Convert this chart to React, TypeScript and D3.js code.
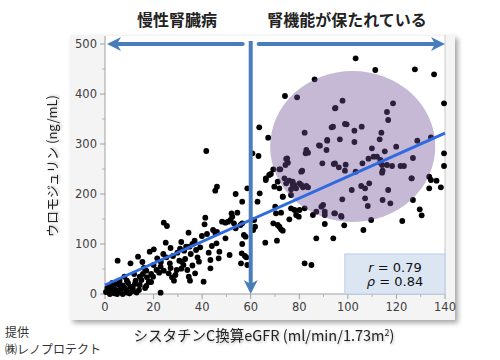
import React from "react";
import * as d3 from "d3";

// eGFR (x) と ウロモジュリン (y) の読み取り値
const lowPoints: [number, number][] = [
  [46.1, 214.7], [45.4, 206.6], [24.2, 142.6], [25.5, 136], [41.3, 152.6], [41, 139.3],
  [34.4, 122.6], [44.5, 128], [46.1, 124], [42, 120], [39.9, 116], [25, 102.6],
  [31.4, 104], [36.9, 106.6], [18.4, 84.6], [20.1, 89.3], [5.2, 66.6], [10.5, 61.3],
  [13.6, 74.6], [15.4, 64], [21.5, 71.3], [25.3, 73.3], [26.7, 61.3], [29.8, 82.6],
  [30.9, 90.6], [32.6, 86.6], [33.4, 94.6], [35.3, 80], [37.5, 88], [39.2, 93.3],
  [42.7, 82.6], [43.4, 68], [43.4, 51.3], [38.1, 73.3], [38.7, 64.6], [37.1, 41.3],
  [30.6, 66.6], [32.3, 58], [31.4, 50.6], [33.9, 48], [34.5, 34.6], [35, 26.6],
  [22.9, 54.6], [24.2, 46.6], [26.2, 41.3], [27.6, 33.3], [28.4, 26.6], [17, 46.6],
  [15.6, 40], [17.3, 33.3], [18, 24], [14.3, 34.6], [12.6, 26.6], [8, 34.6],
  [9, 26.6], [6, 26.6], [4.3, 20], [7.3, 17.3], [10.4, 14.6], [3.2, 10.6],
  [1.5, 6.6], [0.4, 4], [5.7, 4], [8.7, 8], [11.5, 10.6], [12.3, 20],
  [22.9, 2.6], [40.6, 24.6], [3.9, 1.3], [2.5, 2.6], [7.3, 0], [10.1, 1.3],
  [6.6, 11.3], [14.3, 18], [19.8, 34.6], [21.2, 48], [22.3, 42.6], [29.5, 48],
  [31.6, 64.6], [34.8, 94.6], [45.9, 101.3], [46.8, 71.3], [41.7, 286],
  [1, 12], [4.5, 8], [13, 3], [9.5, 22], [16.5, 12], [27, 52], [36, 57],
  [2, 15], [6, 18], [11, 5], [14, 8], [3, 22], [8, 12], [17, 16], [19, 24],
  [12, 40], [16, 52], [20, 58], [28, 76], [33, 70], [36, 100], [44, 96], [24, 80],
  [27, 92], [2, 0], [5, 0], [9, 3], [15, 28], [19, 40], [23, 64], [29, 38],
];

const midPoints: [number, number][] = [
  [53.8, 200], [56.5, 184.6], [58.6, 211.3], [62.8, 184.6], [63.7, 201.3], [66.2, 228],
  [67.6, 238], [71.1, 224.6], [71.8, 211.3], [73.2, 194.6], [52.1, 161.3], [52.4, 154.6],
  [51.7, 148], [54.5, 162.6], [48.2, 144.6], [49.6, 142.6], [50.7, 144.6], [53.1, 141.3],
  [55.8, 138], [56.5, 141.3], [61.4, 148], [61.8, 134.6], [61, 128], [45.5, 121.3],
  [49.6, 111.3], [53.8, 131.3], [57.2, 118], [57.9, 114.6], [56.5, 100], [47.1, 84.6],
  [51.3, 78], [56.3, 81.3], [57.6, 76], [58.2, 73.3], [56, 61.3], [58.6, 58],
  [66, 102.6], [70.8, 106.6], [69.3, 141.3], [71.1, 138], [71.8, 134.6], [72.5, 129.3],
  [73.2, 126.6], [70.4, 161.3], [72.5, 162.6], [70.1, 174.6], [75.9, 149.3], [78, 168],
  [78.7, 158], [79.8, 154.6], [82.2, 171.3], [87, 111.3], [94, 111.3], [82.2, 61.3],
  [85, 58], [90.5, 140], [87, 164.6], [90.5, 164.6], [89.8, 178], [94.7, 161.3],
  [76.6, 198], [74.6, 221.3], [77.3, 218], [80.8, 218], [82.9, 216], [76.6, 209.3],
  [80.8, 244.6], [73.9, 231.3], [86.3, 429.3], [74.1, 396], [79.1, 393.3], [63.5, 333.3],
  [67.2, 312.6], [60.7, 281.3], [63.2, 276], [82.2, 322.6], [93.3, 333.3], [94.7, 371.3],
  [91.5, 308], [88.1, 297.3], [91.2, 288], [82.9, 288], [82.6, 281.3], [74.6, 270],
  [75.3, 262.6], [74.3, 258], [71.8, 249.3], [69.3, 249.3], [68.3, 240], [81.2, 246.6],
  [89.5, 261.3], [94.2, 260], [75, 271.3], [72.2, 249.3], [75.9, 226.6], [77.3, 224.6],
  [66.2, 231.3], [69.7, 214.6], [73.2, 194.6], [76.6, 171.3], [80.1, 168], [85.6, 158],
  [90.5, 158], [97.4, 154.6], [89.1, 174.6], [78.7, 211.3], [81.5, 213.3], [83.6, 213.3],
  [80.1, 221.3], [78, 218], [83.6, 282.6], [88.5, 296.6],
];

const highPoints: [number, number][] = [
  [103.2, 471.3], [111.3, 448], [127.6, 449.3], [135.5, 439.3], [139.6, 381.3], [139.6, 281.3],
  [139.6, 256], [97.8, 386.6], [94.9, 372], [118.6, 381.3], [116.1, 364], [116.6, 348],
  [98.8, 340], [99.5, 339.3], [105.7, 334.6], [102.7, 326.6], [113.8, 322.6], [113.1, 309.3],
  [96.7, 309.3], [102.7, 304], [109.9, 291.3], [115.2, 285.3], [119.9, 294.6], [128.6, 306.6],
  [134.2, 313.3], [126.8, 272], [108.5, 270.6], [110.6, 274.6], [112, 274.6], [106, 261.3],
  [113.4, 262.6], [94.7, 261.3], [96.3, 253.3], [99.1, 258.6], [98.8, 246.6], [116.1, 258],
  [118.2, 256], [121.7, 256], [123.1, 256], [114.3, 246.6], [103.2, 244.6], [93.9, 334.6],
  [114.1, 242.6], [126.3, 231.3], [133.5, 234.6], [134.2, 228], [136.5, 226.6], [138.3, 213.3],
  [133.5, 211.3], [108.8, 221.3], [105.5, 216], [101.6, 208], [107.1, 211.3], [116.6, 208],
  [97.7, 189.3], [107.1, 191.3], [108.2, 176], [114.3, 188], [117.5, 181.3], [126.8, 188],
  [129.6, 169.3], [130.4, 157.3], [122.4, 146], [109.6, 148], [94.4, 161.3], [97.2, 156],
  [98.5, 137.3], [106.4, 128], [91.5, 306.6], [114.1, 258], [113.4, 268], [126.2, 231.3],
];

const xTicks = [0, 20, 40, 60, 80, 100, 120, 140];
const yTicks = [0, 100, 200, 300, 400, 500];
const xMinor = d3.range(10, 140, 20);
const yMinor = d3.range(50, 500, 100);

const fit = { intercept: 18, slope: 2.17 };
const circleCenter: [number, number] = [102, 295];
const circleRadius: [number, number] = [34, 151];
const cutoff = 60;
const stats = ["r", "ρ"];
const statValues = ["0.79", "0.84"];

export default function App() {
  const x = d3.scaleLinear().domain([0, 140]).range([105, 445]);
  const y = d3.scaleLinear().domain([0, 500]).range([294, 44]);
  const all = [...lowPoints, ...midPoints, ...highPoints];
  const fitLine = d3.line<number>().x((d) => x(d)).y((d) => y(fit.intercept + fit.slope * d));
  const arrowC = "#4a7ebb";
  const font = "'DejaVu Sans', Verdana, sans-serif";
  const jp = "'Noto Sans CJK JP', sans-serif";
  const yTop = y(500);
  const xc = x(cutoff);

  return (
    <svg width={500} height={360} style={{ position: "absolute", left: 0, top: 0 }}>
      <defs>
        <filter id="shadow" x="-10%" y="-10%" width="130%" height="130%">
          <feDropShadow dx="3" dy="3" stdDeviation="2.5" floodColor="#000" floodOpacity="0.35" />
        </filter>
        <filter id="tshadow" x="-5%" y="-30%" width="110%" height="160%">
          <feDropShadow dx="1" dy="1.5" stdDeviation="1" floodColor="#000" floodOpacity="0.25" />
        </filter>
      </defs>
      <rect width={500} height={360} fill="#fff" />
      <rect x={70} y={35} width={385} height={285} fill="#f4f4f4" filter="url(#shadow)" />
      <rect x={x(0)} y={36} width={x(140) - x(0)} height={y(0) - 36} fill="#fff" />
      <line x1={x(140)} x2={x(140)} y1={35} y2={y(0)} stroke="#c8c8c8" />

      {/* axes */}
      <line x1={x(0)} x2={x(0)} y1={36} y2={y(0)} stroke="#a0a0a0" />
      <line x1={x(0)} x2={x(140)} y1={y(0)} y2={y(0)} stroke="#a0a0a0" />
      {yTicks.map((t) => (
        <g key={"y" + t}>
          <line x1={x(0) - 5} x2={x(0)} y1={y(t)} y2={y(t)} stroke="#a0a0a0" />
          <text x={x(0) - 8} y={y(t) + 4} textAnchor="end" fontSize={11.5} fill="#404040" fontFamily={font}>
            {t}
          </text>
        </g>
      ))}
      {yMinor.map((t) => (
        <line key={"ym" + t} x1={x(0) - 3} x2={x(0)} y1={y(t)} y2={y(t)} stroke="#b0b0b0" />
      ))}
      {xTicks.map((t) => (
        <g key={"x" + t}>
          <line x1={x(t)} x2={x(t)} y1={y(0)} y2={y(0) + 5} stroke="#a0a0a0" />
          <text x={x(t)} y={y(0) + 17} textAnchor="middle" fontSize={11.5} fill="#404040" fontFamily={font}>
            {t}
          </text>
        </g>
      ))}
      {xMinor.map((t) => (
        <line key={"xm" + t} x1={x(t)} x2={x(t)} y1={y(0)} y2={y(0) + 3} stroke="#b0b0b0" />
      ))}

      {/* points */}
      {all.map(([a, b], i) => (
        <circle key={i} cx={x(a)} cy={y(b)} r={2.9} fill="#000" />
      ))}

      <ellipse
        cx={x(circleCenter[0])}
        cy={y(circleCenter[1])}
        rx={x(circleCenter[0] + circleRadius[0]) - x(circleCenter[0])}
        ry={y(0) - y(circleRadius[1])}
        fill="rgb(110,80,150)"
        fillOpacity={0.4}
      />

      <path d={fitLine([0, 140]) ?? ""} stroke="#2f6ae0" strokeWidth={3} fill="none" />

      {/* arrows */}
      <line x1={xc - 8} x2={x(0) + 10} y1={yTop} y2={yTop} stroke={arrowC} strokeWidth={4} strokeLinecap="round" />
      <path d={`M${x(0) + 2},${yTop} L${x(0) + 16},${yTop - 7} L${x(0) + 12},${yTop} L${x(0) + 16},${yTop + 7} Z`} fill={arrowC} />
      <line x1={xc + 8} x2={x(140) - 10} y1={yTop} y2={yTop} stroke={arrowC} strokeWidth={4} strokeLinecap="round" />
      <path d={`M${x(140)},${yTop} L${x(140) - 14},${yTop - 7} L${x(140) - 10},${yTop} L${x(140) - 14},${yTop + 7} Z`} fill={arrowC} />
      <line x1={xc} x2={xc} y1={yTop - 3} y2={y(0) - 10} stroke={arrowC} strokeWidth={4} />
      <path d={`M${xc},${y(0)} L${xc - 7},${y(0) - 14} L${xc},${y(0) - 10} L${xc + 7},${y(0) - 14} Z`} fill={arrowC} />

      {/* stats box */}
      <rect x={x(100) - 3} y={254} width={x(140) - x(100) + 3} height={y(0) - 254} fill="#dce6f2" stroke="#b8cce4" />
      {stats.map((s, i) => (
        <text key={s} x={395} y={272 + i * 14} textAnchor="middle" fontSize={13} fill="#111" fontFamily={font}>
          <tspan fontStyle="italic">{s}</tspan>
          {" = " + statValues[i]}
        </text>
      ))}

      {/* titles */}
      <text x={177} y={26} textAnchor="middle" fontSize={16} fontWeight={700} fill="#222" fontFamily={jp}>
        慢性腎臓病
      </text>
      <text x={347} y={26} textAnchor="middle" fontSize={16} fontWeight={700} fill="#222" fontFamily={jp}>
        腎機能が保たれている
      </text>

      <text
        transform={`translate(57,166) rotate(-90)`}
        textAnchor="middle"
        fontSize={13}
        fill="#222"
        fontFamily={jp}
        filter="url(#tshadow)"
      >
        ウロモジュリン (ng/mL)
      </text>
      <text x={264} y={341} textAnchor="middle" fontSize={14.5} fill="#222" fontFamily={jp} filter="url(#tshadow)">
        シスタチンC換算eGFR (ml/min/1.73m<tspan fontSize={9} dy={-5}>2</tspan>
        <tspan dy={5}>)</tspan>
      </text>

      <text x={5} y={337} fontSize={12} fill="#333" fontFamily={jp}>
        提供
      </text>
      <text x={5} y={354} fontSize={12} fill="#333" fontFamily={jp}>
        ㈱レノプロテクト
      </text>
    </svg>
  );
}
